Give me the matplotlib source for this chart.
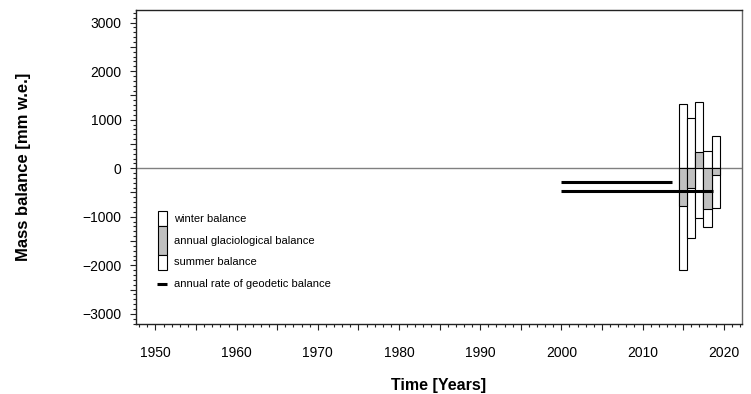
import matplotlib
matplotlib.use("Agg")
import matplotlib.pyplot as plt
from matplotlib.patches import Rectangle
from matplotlib.ticker import MultipleLocator, FuncFormatter

plt.rcParams['font.family'] = ['Liberation Sans', 'DejaVu Sans']

### data
years = [2015, 2016, 2017, 2018, 2019]
winter = [1320, 1040, 1370, 360, 670]
summer = [-2090, -1440, -1030, -1210, -810]
annual = [-780, -400, 340, -850, -140]

geo_start = [2000, 2000]
geo_end = [2013.6, 2018.7]
geo_rate = [-290, -460]

legend_labels = ["winter balance", "annual glaciological balance",
                 "summer balance", "annual rate of geodetic balance"]

fig = plt.figure(figsize=(7.51, 3.94), dpi=100)
ax = fig.add_axes([0.1811, 0.1777, 0.8063, 0.7969])

ax.axhline(0, color='#808080', lw=1.0, zorder=1)

### bars: winter and summer white, annual grey on top
for y, bw, bs, ba in zip(years, winter, summer, annual):
    x0 = y - 0.5
    ax.add_patch(Rectangle((x0, 0), 1.0, bw, facecolor='white', edgecolor='black', lw=0.8, zorder=2))
    ax.add_patch(Rectangle((x0, 0), 1.0, bs, facecolor='white', edgecolor='black', lw=0.8, zorder=2))
    ax.add_patch(Rectangle((x0, 0), 1.0, ba, facecolor='#c0c0c0', edgecolor='black', lw=0.8, zorder=3))

### geodetic balance
for s, e, r in zip(geo_start, geo_end, geo_rate):
    ax.plot([s, e], [r, r], color='black', lw=2.2, solid_capstyle='butt', zorder=4)

ax.set_xlim(1947.6, 2022.2)
ax.set_ylim(-3210, 3260)

ax.xaxis.set_major_locator(MultipleLocator(5))
ax.xaxis.set_minor_locator(MultipleLocator(1))
ax.xaxis.set_major_formatter(FuncFormatter(lambda v, p: "%d" % v if round(v) % 10 == 0 else ""))
ax.yaxis.set_major_locator(MultipleLocator(500))
ax.yaxis.set_minor_locator(MultipleLocator(100))
ax.yaxis.set_major_formatter(FuncFormatter(lambda v, p: ("%d" % v).replace("-", "\u2212") if round(v) % 1000 == 0 else ""))

ax.tick_params(axis='both', which='major', length=4.5, width=0.8, labelsize=10, color='#222222')
ax.tick_params(axis='both', which='minor', length=2.3, width=0.8, color='#222222')
ax.tick_params(axis='x', which='major', pad=11)
ax.tick_params(axis='y', which='major', pad=6)

for sp in ax.spines.values():
    sp.set_color('#222222')
    sp.set_linewidth(1.0)
ax.spines['right'].set_color('#666666')

ax.set_xlabel("Time [Years]", fontsize=11.5, fontweight='bold', labelpad=13)
ax.set_ylabel("Mass balance [mm w.e.]", fontsize=12, fontweight='bold', labelpad=37)

### hand-made legend
tr = ax.transAxes
lx, lw_ = 0.0368, 0.0139
ax.add_patch(Rectangle((lx, 0.312), lw_, 0.048, transform=tr, facecolor='white', edgecolor='black', lw=0.8))
ax.add_patch(Rectangle((lx, 0.2197), lw_, 0.0923, transform=tr, facecolor='#c0c0c0', edgecolor='black', lw=0.8))
ax.add_patch(Rectangle((lx, 0.172), lw_, 0.0477, transform=tr, facecolor='white', edgecolor='black', lw=0.8))
ax.plot([0.0347, 0.0512], [0.1264, 0.1264], transform=tr, color='black', lw=2.2, solid_capstyle='butt')
for ty, txt in zip([0.334, 0.265, 0.196, 0.127], legend_labels):
    ax.text(0.0628, ty, txt, transform=tr, fontsize=8, va='center', ha='left')

fig.savefig("out.png", dpi=100)
